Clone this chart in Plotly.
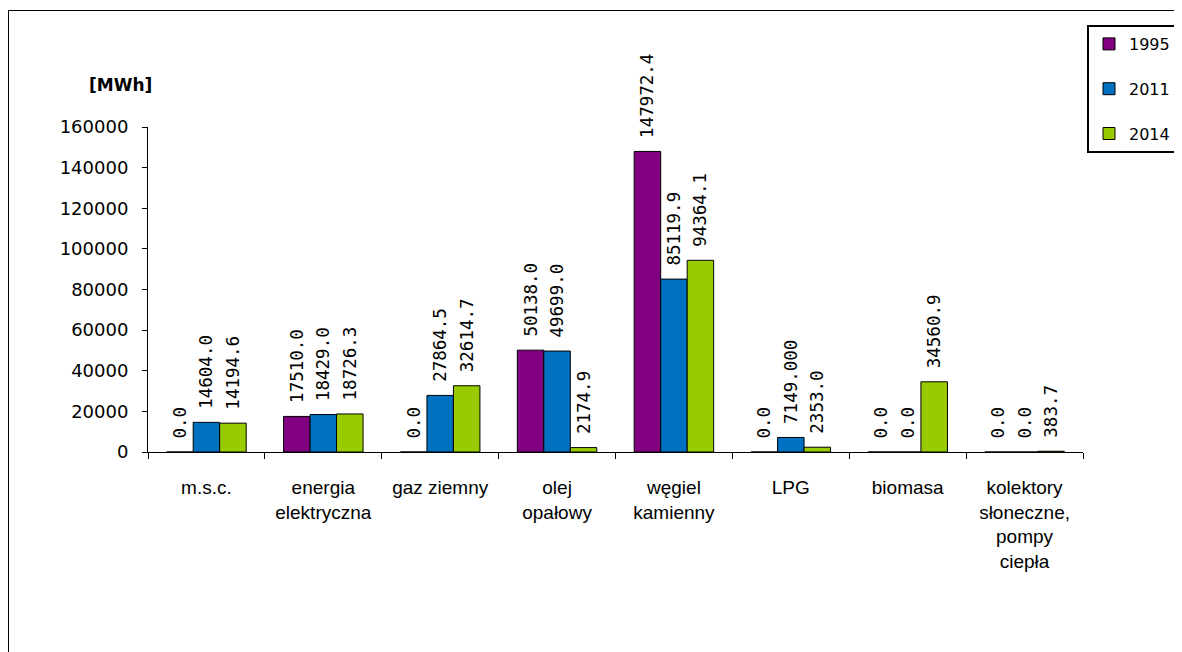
import plotly.graph_objects as go

categories = ["m.s.c.", "energia<br>elektryczna", "gaz ziemny", "olej<br>opałowy",
              "węgiel<br>kamienny", "LPG", "biomasa", "kolektory<br>słoneczne,<br>pompy<br>ciepła"]
series_names = ["1995", "2011", "2014"]
v1995 = [0.0, 17510.0, 0.0, 50138.0, 147972.4, 0.0, 0.0, 0.0]
v2011 = [14604.0, 18429.0, 27864.5, 49699.0, 85119.9, 7149.0, 0.0, 0.0]
v2014 = [14194.6, 18726.3, 32614.7, 2174.9, 94364.1, 2353.0, 34560.9, 383.7]
l1995 = ["0.0", "17510.0", "0.0", "50138.0", "147972.4", "0.0", "0.0", "0.0"]
l2011 = ["14604.0", "18429.0", "27864.5", "49699.0", "85119.9", "7149.000", "0.0", "0.0"]
l2014 = ["14194.6", "18726.3", "32614.7", "2174.9", "94364.1", "2353.0", "34560.9", "383.7"]
colors = ["#800080", "#0070C0", "#99CC00"]
y_ticks = [0, 20000, 40000, 60000, 80000, 100000, 120000, 140000, 160000]

W, H = 1174, 644
L, R, T, B = 140, 99, 119, 200
pw, ph = W - L - R, H - T - B

fig = go.Figure()
for name, vals, labs, col in zip(series_names, [v1995, v2011, v2014], [l1995, l2011, l2014], colors):
    fig.add_trace(go.Bar(
        x=categories, y=vals, name=name, legendgroup=name,
        marker=dict(color=col, line=dict(color="black", width=1)),
        text=["\u00a0" + s for s in labs], textposition="outside", textangle=-90,
        constraintext="none", cliponaxis=False,
        textfont=dict(family="DejaVu Sans Mono", size=17.5, color="black"),
    ))

fig.update_layout(
    width=W, height=H,
    margin=dict(l=L, r=R, t=T, b=B, autoexpand=False),
    paper_bgcolor="white", plot_bgcolor="white",
    barmode="group", bargap=0.32, bargroupgap=0,
    font=dict(family="DejaVu Sans", color="black"),
    showlegend=True,
    legend=dict(x=(1079 - L) / pw, y=(H - B - 17) / ph, xanchor="left", yanchor="top",
                bordercolor="black", borderwidth=2, bgcolor="white",
                font=dict(family="DejaVu Sans", size=16, color="black"),
                tracegroupgap=21, traceorder="grouped",
                itemwidth=30),
    xaxis=dict(type="category", showline=True, linecolor="black", linewidth=1,
               ticks="outside", tickson="boundaries", ticklen=6, tickcolor="black",
               tickfont=dict(family="Liberation Sans", size=19, color="black"),
               ticklabelstandoff=18, showgrid=False),
    yaxis=dict(range=[0, 160000], tickvals=y_ticks, ticktext=[str(v) for v in y_ticks],
               showline=True, linecolor="black", linewidth=1, ticks="outside", ticklen=5,
               tickcolor="black", showgrid=False, zeroline=False,
               tickfont=dict(family="DejaVu Sans", size=18, color="black"),
               ticklabelstandoff=10),
    annotations=[dict(text="<b>[MWh]</b>", xref="paper", yref="paper",
                      x=(112 - L) / pw, y=(H - B - 77) / ph, xanchor="center", yanchor="middle",
                      showarrow=False,
                      font=dict(family="DejaVu Sans", size=17, color="black"))],
    shapes=[dict(type="rect", xref="paper", yref="paper",
                 x0=(0.5 - L) / pw, x1=(1200 - L) / pw,
                 y0=(H - B - 670) / ph, y1=(H - B - 2.5) / ph,
                 line=dict(color="black", width=1), fillcolor="rgba(0,0,0,0)", layer="below")],
)

fig.write_html("out.html")
